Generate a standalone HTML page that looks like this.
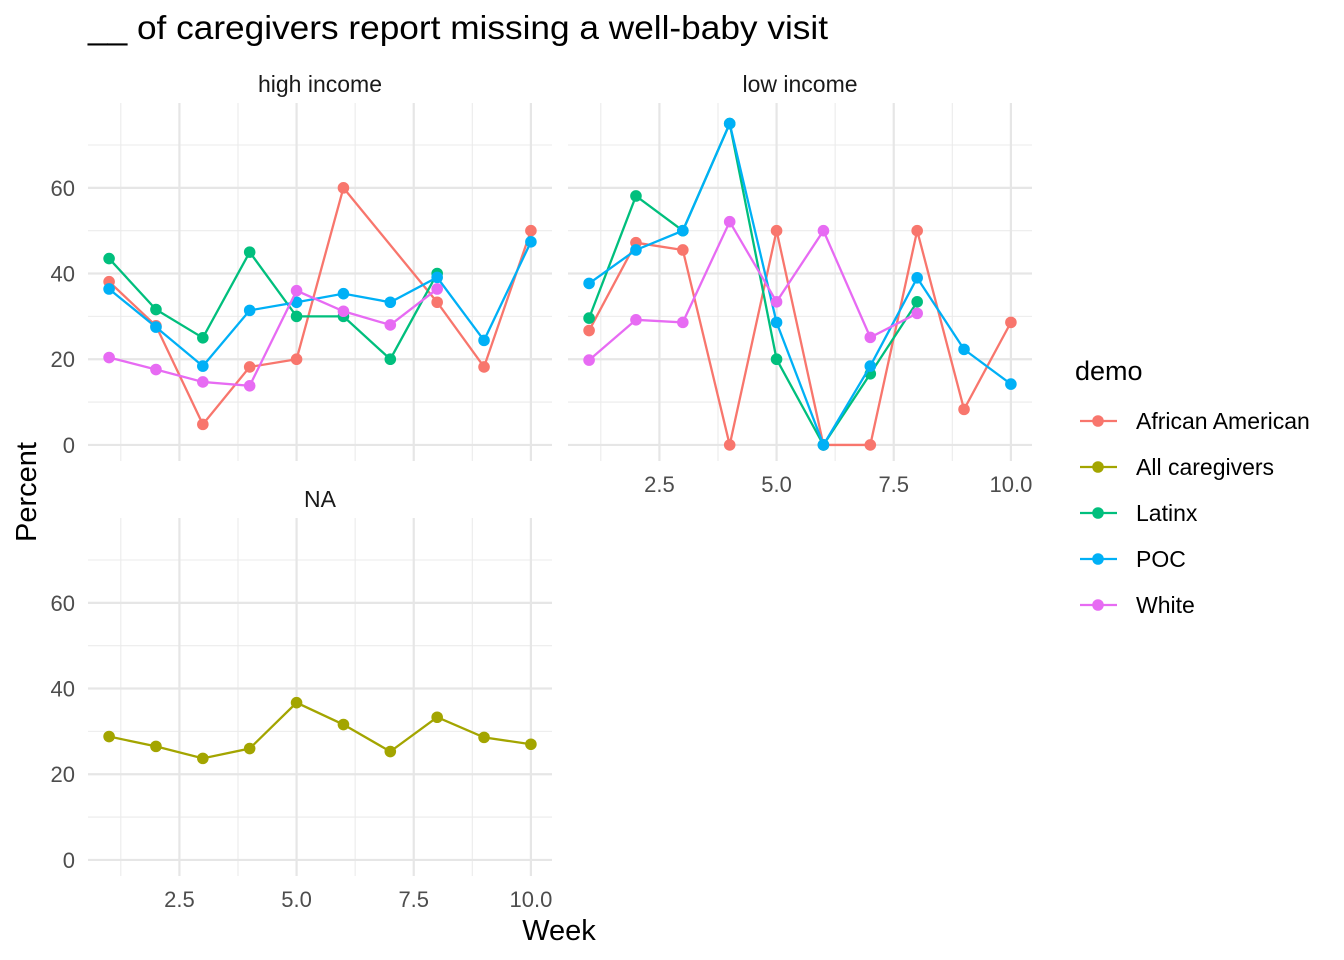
<!DOCTYPE html>
<html><head><meta charset="utf-8"><style>
body{margin:0;background:#fff;}
svg{display:block;font-family:"Liberation Sans",Arial,sans-serif;}
</style></head><body>
<svg id="chart" width="1344" height="960" viewBox="0 0 1344 960">
<text x="88" y="39" font-size="33" textLength="740" lengthAdjust="spacingAndGlyphs" fill="#000">__ of caregivers report missing a well-baby visit</text>
<g id="panels"></g>
<text x="559" y="940" font-size="29" text-anchor="middle" fill="#000">Week</text>
<text transform="translate(36,492) rotate(-90)" font-size="29" text-anchor="middle" fill="#000">Percent</text>
<g id="legend">
<text x="1075" y="380" font-size="27" fill="#000">demo</text>
</g>
</svg>
<script>
const weeks=[1,2,3,4,5,6,7,8,9,10];
const seriesNames=["African American","All caregivers","Latinx","POC","White"];
const colors=["#F8766D","#A3A500","#00BF7D","#00B0F6","#E76BF3"];
const yTicks=[0,20,40,60];
const xTicks=[2.5,5.0,7.5,10.0];
const xTickLabels=["2.5","5.0","7.5","10.0"];
// high income
const hiAfrican=[38.1,27.8,4.8,18.2,20,60,null,33.3,18.2,50];
const hiLatinx=[43.5,31.6,25,45,30,30,20,40,null,null];
const hiPOC=[36.4,27.5,18.4,31.4,33.3,35.3,33.3,39.1,24.4,47.4];
const hiWhite=[20.4,17.6,14.7,13.8,36,31.2,28,36.4,null,null];
// low income
const loAfrican=[26.7,47.2,45.5,0,50,0,0,50,8.3,28.6];
const loLatinx=[29.6,58.1,50,75,20,0,16.6,33.4,null,null];
const loPOC=[37.7,45.5,50,75,28.6,0,18.4,39,22.3,14.2];
const loWhite=[19.8,29.2,28.6,52.1,33.4,50,25.1,30.7,null,null];
// NA
const naAll=[28.8,26.5,23.7,26,36.7,31.6,25.3,33.3,28.6,27];

const NS="http://www.w3.org/2000/svg";
function mk(tag,attrs,parent){const e=document.createElementNS(NS,tag);for(const k in attrs)e.setAttribute(k,attrs[k]);parent.appendChild(e);return e;}
const root=document.getElementById('panels');
const panels=[
 {name:"high-income",title:"high income",x0:88,x1:552,y0:103,y1:461,ylab:true,xlab:false,series:[[0,hiAfrican],[2,hiLatinx],[3,hiPOC],[4,hiWhite]]},
 {name:"low-income",title:"low income",x0:568,x1:1032,y0:103,y1:461,ylab:false,xlab:true,series:[[0,loAfrican],[2,loLatinx],[3,loPOC],[4,loWhite]]},
 {name:"na",title:"NA",x0:88,x1:552,y0:518,y1:876,ylab:true,xlab:true,series:[[1,naAll]]}
];
const xmin=0.55,xmax=10.45,ymin=-3.75,ymax=79.8;
panels.forEach(p=>{
 const g=mk('g',{},root);
 
 
 const sx=v=>p.x0+(v-xmin)/(xmax-xmin)*(p.x1-p.x0);
 const sy=v=>p.y1-(v-ymin)/(ymax-ymin)*(p.y1-p.y0);
 const t=mk('text',{x:(p.x0+p.x1)/2,y:p.y0-11,'font-size':23,'text-anchor':'middle',fill:'#1a1a1a'},g);
 t.textContent=p.title;
 
 
 [10,30,50,70].forEach(v=>mk('line',{x1:p.x0,x2:p.x1,y1:sy(v),y2:sy(v),stroke:'#ebebeb','stroke-width':1.1},g));
 [1.25,3.75,6.25,8.75].forEach(v=>mk('line',{x1:sx(v),x2:sx(v),y1:p.y0,y2:p.y1,stroke:'#ebebeb','stroke-width':1.1},g));
 yTicks.forEach(v=>{
  mk('line',{x1:p.x0,x2:p.x1,y1:sy(v),y2:sy(v),stroke:'#e6e6e6','stroke-width':2.2},g);
  if(p.ylab){const l=mk('text',{x:p.x0-13,y:sy(v)+8,'font-size':22,'text-anchor':'end',fill:'#4d4d4d'},g);l.textContent=v;
   
   }
 });
 xTicks.forEach((v,i)=>{
  mk('line',{x1:sx(v),x2:sx(v),y1:p.y0,y2:p.y1,stroke:'#e6e6e6','stroke-width':2.2},g);
  if(p.xlab){const l=mk('text',{x:sx(v),y:p.y1+31,'font-size':22,'text-anchor':'middle',fill:'#4d4d4d'},g);l.textContent=xTickLabels[i];
   
   }
 });
 p.series.forEach(([ci,vals])=>{
  const sg=mk('g',{},g);
  
  
  const pts=[];weeks.forEach((w,i)=>{if(vals[i]!==null)pts.push([sx(w),sy(vals[i])]);});
  mk('polyline',{points:pts.map(q=>q.join(',')).join(' '),fill:'none',stroke:colors[ci],'stroke-width':2.3},sg);
  pts.forEach(q=>{const c=mk('circle',{cx:q[0],cy:q[1],r:5.8,fill:colors[ci]},sg);
   
   });
 });
});
const lg=document.getElementById('legend');
seriesNames.forEach((n,i)=>{
 const y=421+i*46;
 const e=mk('g',{},lg);
 
 
 mk('line',{x1:1080,x2:1117,y1:y,y2:y,stroke:colors[i],'stroke-width':2.3},e);
 mk('circle',{cx:1098,cy:y,r:5.8,fill:colors[i]},e);
 const t=mk('text',{x:1136,y:y+8,'font-size':23,fill:'#000'},e);t.textContent=n;
});
</script>
</body></html>
